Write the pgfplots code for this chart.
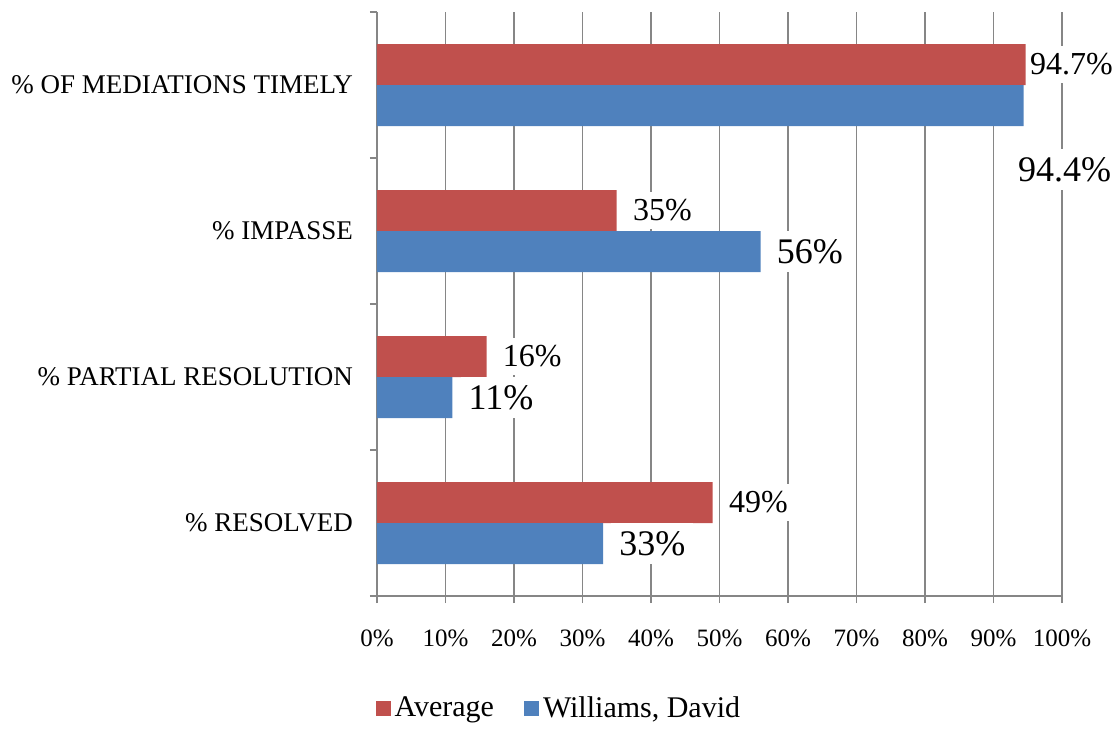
\documentclass[border=0pt]{standalone}
\usepackage{fontspec}
\setmainfont{Liberation Serif}
\usepackage{pgfplots}
\usepackage{pgfplotstable}
\pgfplotsset{compat=1.18}

\definecolor{avgred}{HTML}{C0504D}
\definecolor{wilblue}{HTML}{4F81BD}
\definecolor{gridgray}{HTML}{868686}

% pos: 0 = resolved ... 3 = timely; dx/dy nudge the data labels (pt)
\pgfplotstableread{
pos avg  wil  adx wdx  wdy
0   49   33   0   0    0
1   16   11   0   0    0
2   35   56   0   0    0
3   94.7 94.4 -6  -11  -32
}\mediation

\begin{document}
\begin{tikzpicture}
\begin{axis}[
  scale only axis, width=342.5pt, height=292pt,
  xmin=0, xmax=100, ymin=-0.5, ymax=3.5,
  clip=false,
  xbar, bar width=20.5pt,
  legend image code/.code={\fill[#1,draw=none] (0pt,-3.75pt) rectangle (7.5pt,3.75pt);},
  axis lines*=left,
  axis line style={-, gridgray, line width=0.75pt},
  xmajorgrids, grid style={gridgray, line width=0.75pt},
  tick align=outside, major tick length=3.5pt, minor tick length=3.5pt,
  tick style={gridgray, line width=0.75pt},
  every major y tick/.style={draw=none},
  xtick={0,10,...,100},
  xticklabels={0\%,10\%,20\%,30\%,40\%,50\%,60\%,70\%,80\%,90\%,100\%},
  ytick={0,1,2,3},
  yticklabels={\% RESOLVED,\% PARTIAL RESOLUTION,\% IMPASSE,\% OF MEDIATIONS TIMELY},
  minor ytick={-0.5,0.5,1.5,2.5,3.5},
  xticklabel style={font=\fontsize{12.5}{15}\selectfont, yshift=-10pt},
  yticklabel style={font=\fontsize{13.5}{16}\selectfont, xshift=-5pt},
  /pgf/number format/assume math mode=true,
  legend columns=2,
  legend style={at={(0.267,-0.192)}, anchor=center, draw=none,
    font=\fontsize{15}{18}\selectfont,
    /tikz/every even column/.append style={column sep=13pt}},
]
\addplot[fill=avgred, draw=none, bar shift=10.25pt,
  point meta=x,
  visualization depends on={\thisrow{adx} \as \adx},
  nodes near coords={\pgfmathprintnumber{\pgfplotspointmeta}\%},
  every node near coord/.append style={anchor=west, fill=white, text=black,
    inner ysep=4pt, inner xsep=1pt, xshift={7pt+\adx*1pt},
    font=\fontsize{16}{19}\selectfont}]
  table[x=avg, y=pos] {\mediation};
\addlegendentry{Average}
\addplot[fill=wilblue, draw=none, bar shift=-10.25pt,
  point meta=x,
  visualization depends on={\thisrow{wdx} \as \ldx},
  visualization depends on={\thisrow{wdy} \as \ldy},
  nodes near coords={\pgfmathprintnumber{\pgfplotspointmeta}\%},
  every node near coord/.append style={anchor=west, fill=white, text=black,
    inner sep=4pt, xshift={4pt+\ldx*1pt}, yshift={\ldy*1pt},
    font=\fontsize{18}{21}\selectfont}]
  table[x=wil, y=pos] {\mediation};
\addlegendentry{Williams, David}
\end{axis}
\path (-188.5pt,-63.5pt) rectangle (371.5pt,298pt);
\end{tikzpicture}
\end{document}
